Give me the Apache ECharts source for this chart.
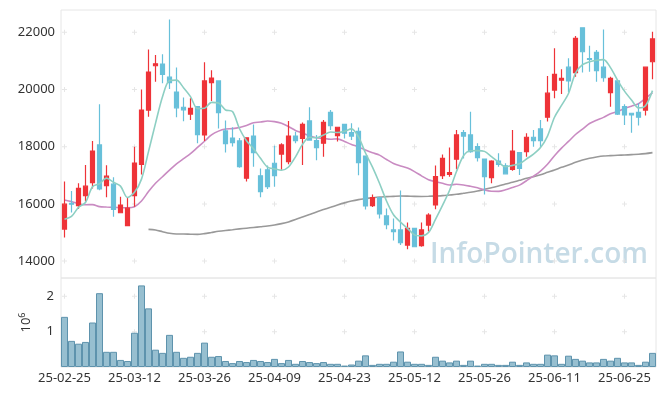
<!DOCTYPE html>
<html><head><meta charset="utf-8">
<script src="https://cdn.jsdelivr.net/npm/echarts/dist/echarts.min.js"></script>
<style>html,body{margin:0;padding:0;background:#fff}#c{width:665px;height:396px}</style>
</head><body><div id="c"></div><script>
const dates = ['25-02-25','25-02-26','25-02-27','25-02-28','25-03-04','25-03-05','25-03-06','25-03-07','25-03-10','25-03-11',
'25-03-12','25-03-13','25-03-14','25-03-17','25-03-18','25-03-19','25-03-20','25-03-21','25-03-24','25-03-25',
'25-03-26','25-03-27','25-03-28','25-03-31','25-04-01','25-04-02','25-04-03','25-04-04','25-04-07','25-04-08',
'25-04-09','25-04-10','25-04-11','25-04-14','25-04-15','25-04-16','25-04-17','25-04-18','25-04-21','25-04-22',
'25-04-23','25-04-24','25-04-25','25-04-28','25-04-29','25-04-30','25-05-02','25-05-07','25-05-08','25-05-09',
'25-05-12','25-05-13','25-05-14','25-05-15','25-05-16','25-05-19','25-05-20','25-05-21','25-05-22','25-05-23',
'25-05-26','25-05-27','25-05-28','25-05-29','25-05-30','25-06-02','25-06-04','25-06-05','25-06-09','25-06-10',
'25-06-11','25-06-12','25-06-13','25-06-16','25-06-17','25-06-18','25-06-19','25-06-20','25-06-23','25-06-24',
'25-06-25','25-06-26','25-06-27','25-06-30','25-07-01'];

const opens = [15120,16020,15940,16290,16740,18060,16640,16690,15690,15240,
16290,17380,19280,20830,20890,20430,19910,19380,19140,19400,
18410,20240,20300,18550,18300,18200,16900,18370,16980,17190,
17420,17740,17480,18370,18290,18900,18210,18120,19200,18390,
18780,18490,18540,17670,15940,16220,15580,15090,15090,14560,
15140,14540,15260,15960,16990,17030,17560,18490,18410,18000,
17570,16920,17500,17330,17210,17790,17830,18330,18620,19030,
19980,20330,20780,20590,22160,21080,21300,20780,19890,20300,
19400,19170,19200,19280,20970];
const closes = [15990,15990,16540,16620,17850,16520,16970,15810,15960,15850,
17430,19280,20610,20900,20530,20240,19360,19290,19340,18420,
20300,20400,19190,18110,18140,17300,18310,17790,16430,16600,
16990,18060,18370,18210,18780,18230,17970,18850,18740,18680,
18470,18370,17440,15930,16220,15650,15270,15030,14640,15140,
14500,15090,15610,16950,17590,17090,18410,18370,17830,17620,
16950,17500,17380,17050,17850,17240,18330,18210,18210,19870,
20530,20390,20300,21790,21320,21050,20660,20410,20390,19140,
19110,19110,19030,20780,21770];
const lows = [14820,15700,15820,16080,16540,16480,16230,15550,15690,15240,
15900,17030,19050,20270,20220,20020,19030,18890,18930,18120,
18200,19600,18640,17800,18010,17265,16780,17300,16230,16520,
16600,17190,17390,18120,17360,18230,17530,17650,18580,18180,
18290,18230,17000,15800,15890,15490,15110,14720,14560,14410,
14480,14500,15030,15810,16870,16950,17210,17590,17790,17480,
16330,16720,17300,17050,17160,17010,17650,18000,17980,18880,
19690,19840,19900,20450,20590,20620,20270,20270,19400,19110,
18760,18490,18740,19090,20360];
const highs = [16780,16450,16720,17360,18200,19480,17350,16930,16250,16220,
18000,20000,21400,21210,21230,22450,20770,19720,19690,19400,
20950,20670,20300,18920,18680,18300,18310,18780,17240,17340,
18030,18120,18900,18520,18850,19380,18410,18930,19280,18680,
18780,18820,18670,17670,16330,16220,15840,15490,16470,15350,
15140,15350,15670,17340,17730,17970,18580,18580,19220,18120,
17570,17530,17770,17420,18580,17790,18470,18580,18930,20470,
21440,20710,21090,21870,22160,21530,21380,22100,20450,20300,
19480,19170,19520,20780,22020];

const volumes = [1420000,740000,660000,710000,1260000,2090000,430000,430000,200000,170000,
970000,2310000,1660000,490000,400000,910000,430000,260000,290000,400000,
690000,290000,310000,170000,110000,170000,140000,200000,170000,140000,
230000,110000,200000,90000,170000,140000,110000,140000,90000,90000,
40000,70000,180000,330000,60000,90000,90000,150000,440000,150000,
90000,90000,60000,290000,180000,130000,180000,60000,180000,40000,
90000,90000,60000,60000,150000,60000,130000,90000,90000,350000,
330000,90000,320000,230000,180000,130000,130000,230000,180000,260000,
130000,130000,60000,150000,400000];

const ma5 = [15460,15560,15880,16050,16598,16704,16900,16754,16622,16222,
16404,16866,17826,18814,19750,20312,20328,20064,19752,19330,
19342,19550,19530,19284,19228,18628,18210,17930,17594,17286,
17224,17174,17290,17646,18082,18330,18312,18408,18514,18494,
18542,18622,18340,17778,17286,16722,16102,15620,15362,15146,
14916,14880,14996,15458,15948,16466,17130,17682,17858,17864,
17836,17654,17456,17300,17346,17404,17570,17736,17968,18372,
19030,19442,19860,20576,20866,20970,21024,21046,20766,20330,
19942,19632,19356,19434,19960];
const ma20 = [16135,16080,16000,15970,15975,15905,15890,15880,15870,15865,
15900,16100,16430,16720,16950,17180,17400,17580,17760,17975,
18191,18411,18544,18618,18633,18672,18739,18838,18861,18899,
18877,18816,18704,18569,18482,18381,18312,18290,18260,18273,
18181,18080,17992,17883,17787,17705,17553,17415,17325,17252,
17128,16979,16841,16778,16719,16662,16684,16660,16614,16561,
16485,16442,16439,16495,16576,16656,16809,16968,17146,17383,
17684,17949,18184,18426,18612,18810,18923,19025,19153,19229,
19337,19417,19502,19688,19884];
const ma60 = ['-','-','-','-','-','-','-','-','-','-',
'-','-',15110,15086,15028,14970,14947,14947,14940,14935,
14960,15000,15040,15070,15095,15125,15150,15175,15200,15225,
15260,15310,15370,15450,15540,15630,15720,15800,15880,15960,
16035,16100,16150,16185,16215,16240,16252,16264,16275,16270,
16262,16260,16265,16275,16287,16310,16334,16369,16404,16451,
16509,16567,16625,16695,16753,16823,16893,16951,17021,17103,
17184,17278,17359,17453,17534,17593,17639,17674,17686,17698,
17709,17721,17733,17756,17791];

const priceTicks = [14000,16000,18000,20000,22000];
const volumeTicks = [1000000,2000000];
const labelEvery = 10;

const UP = '#ee3338', DOWN = '#68c0da';
const FONT = 'Noto Sans';

const candleData = dates.map((d,i)=>[opens[i],closes[i],lows[i],highs[i]]);
const crossCats = dates.filter((d,i)=> i % labelEvery === 0);
const priceCross = [], volCross = [];
crossCats.forEach(c=>{
  priceTicks.forEach(v=>priceCross.push([c,v]));
  volumeTicks.forEach(v=>volCross.push([c,v]));
});
const PLUS = 'path://M4 0H6V4H10V6H6V10H4V6H0V4H4Z';

const chart = echarts.init(document.getElementById('c'), null, {renderer:'canvas'});
chart.setOption({
  animation:false,
  backgroundColor:'#fff',
  textStyle:{fontFamily:FONT},
  grid:[
    {left:61, right:9, top:10, height:268, show:true, borderColor:'#e6e6e6', borderWidth:1, backgroundColor:'transparent'},
    {left:61, right:9, top:278, height:89, show:true, borderColor:'#e6e6e6', borderWidth:1, backgroundColor:'transparent'}
  ],
  xAxis:[
    {type:'category', gridIndex:0, data:dates, boundaryGap:true,
     axisLine:{show:false}, axisTick:{show:false}, axisLabel:{show:false}, splitLine:{show:false}},
    {type:'category', gridIndex:1, data:dates, boundaryGap:true,
     axisLine:{show:false}, axisTick:{show:false}, splitLine:{show:false},
     axisLabel:{interval:labelEvery-1, color:'#333', fontSize:13, fontFamily:FONT, margin:5}}
  ],
  yAxis:[
    {type:'value', gridIndex:0, min:13408, max:22780, splitNumber:5, scale:true,
     axisLine:{show:false}, axisTick:{show:false}, splitLine:{show:false},
     axisLabel:{color:'#333', fontSize:13, fontFamily:FONT, margin:6, showMinLabel:false, showMaxLabel:false,
       formatter:v=> (v % 2000 === 0 ? String(v) : '')}},
    {type:'value', gridIndex:1, min:0, max:2520000, interval:1000000,
     axisLine:{show:false}, axisTick:{show:false}, splitLine:{show:false},
     axisLabel:{color:'#333', fontSize:13, fontFamily:FONT, margin:7, showMaxLabel:false,
       formatter:v=> (v > 0 && v % 1000000 === 0 ? String(v/1000000) : '')},
     name:'{a|10}{b|6}', nameLocation:'middle', nameRotate:90, nameGap:27,
     nameTextStyle:{color:'#333', fontFamily:FONT,
       rich:{a:{fontSize:13, fontFamily:FONT, color:'#333', lineHeight:16},
             b:{fontSize:9, fontFamily:FONT, color:'#333', verticalAlign:'top', lineHeight:10}}}}
  ],
  graphic:[
    {type:'text', x:648, y:255, z:0, silent:true,
     style:{text:'InfoPointer.com', fontSize:28, fontWeight:600, fontFamily:'Open Sans', fill:'#c6dbe6', align:'right', verticalAlign:'middle'}}
  ],
  series:[
    {type:'scatter', xAxisIndex:0, yAxisIndex:0, data:priceCross, symbol:PLUS, symbolSize:5, silent:true, z:1,
     itemStyle:{color:'#e0e0e0'}},
    {type:'scatter', xAxisIndex:1, yAxisIndex:1, data:volCross, symbol:PLUS, symbolSize:5, silent:true, z:1,
     itemStyle:{color:'#e0e0e0'}},
    {type:'line', name:'MA60', xAxisIndex:0, yAxisIndex:0, data:ma60, symbol:'none', smooth:0.3, z:3,
     lineStyle:{color:'#999999', width:1.6}},
    {type:'line', name:'MA20', xAxisIndex:0, yAxisIndex:0, data:ma20, symbol:'none', smooth:0.3, z:3,
     lineStyle:{color:'#c98bc2', width:1.6}},
    {type:'candlestick', xAxisIndex:0, yAxisIndex:0, data:candleData, barWidth:5, z:4,
     itemStyle:{color:UP, color0:DOWN, borderColor:UP, borderColor0:DOWN, borderWidth:1.2}},
    {type:'line', name:'MA5', xAxisIndex:0, yAxisIndex:0, data:ma5, symbol:'none', smooth:0.3, z:5,
     lineStyle:{color:'#8dcfc3', width:1.6}},
    {type:'bar', xAxisIndex:1, yAxisIndex:1, data:volumes, barCategoryGap:'0%', z:3,
     itemStyle:{color:'#97bfd0', borderColor:'#5e93ad', borderWidth:1}}
  ]
});
</script></body></html>
